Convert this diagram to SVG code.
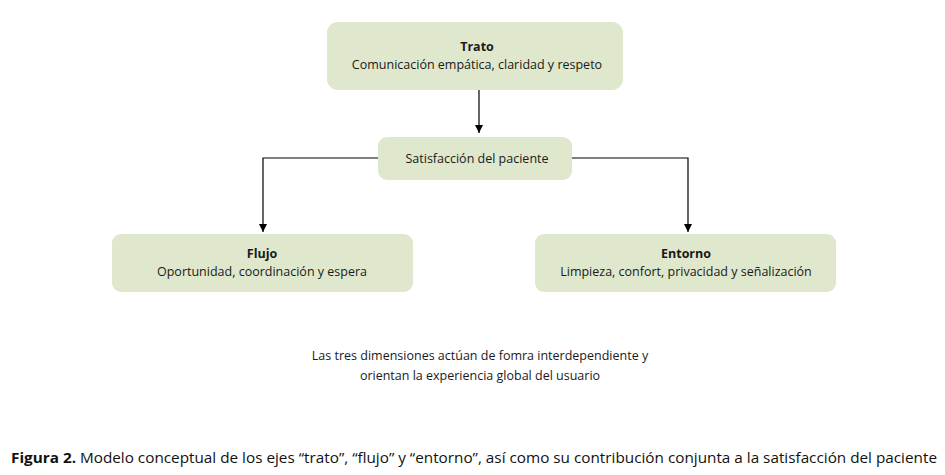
<svg xmlns="http://www.w3.org/2000/svg" width="945" height="475" viewBox="0 0 945 475">
<defs>
<style>
.box{fill:#dfe8cc;stroke:none}
.t{font-family:"Open Sans","Noto Sans",sans-serif;font-size:12.5px;fill:#1a1a1a;text-anchor:middle}
.b{font-weight:bold}
.ln{fill:none;stroke:#000;stroke-width:1.2}
.cap{font-family:"Open Sans","Noto Sans",sans-serif;font-size:15px;fill:#111}
</style>
<marker id="ah" viewBox="0 0 10 10" refX="10" refY="5" markerWidth="8" markerHeight="8" markerUnits="userSpaceOnUse" orient="auto">
<path d="M0,0 L10,5 L0,10 z" fill="#000"/>
</marker>
</defs>
<rect width="945" height="475" fill="#fff"/>
<g id="connectors">
<path class="ln" d="M479,90 V133" marker-end="url(#ah)"/>
<path class="ln" d="M378,158 H263 V232" marker-end="url(#ah)"/>
<path class="ln" d="M572,158 H688 V232" marker-end="url(#ah)"/>
</g>
<g id="trato">
<rect class="box" x="327" y="22" width="296" height="68" rx="11"/>
<text class="t b" x="477" y="51">Trato</text>
<text class="t" x="477" y="69">Comunicación empática, claridad y respeto</text>
</g>
<g id="satisfaccion">
<rect class="box" x="378" y="137" width="194" height="43" rx="9"/>
<text class="t" x="477" y="163">Satisfacción del paciente</text>
</g>
<g id="flujo">
<rect class="box" x="112" y="234" width="301" height="58" rx="9"/>
<text class="t b" x="262" y="258">Flujo</text>
<text class="t" x="262" y="276">Oportunidad, coordinación y espera</text>
</g>
<g id="entorno">
<rect class="box" x="535" y="234" width="301" height="58" rx="9"/>
<text class="t b" x="686" y="258">Entorno</text>
<text class="t" x="686" y="276">Limpieza, confort, privacidad y señalización</text>
</g>
<g id="nota">
<text class="t" x="480" y="360" font-size="12">Las tres dimensiones actúan de fomra interdependiente y</text>
<text class="t" x="480" y="380" font-size="12">orientan la experiencia global del usuario</text>
</g>
<text class="cap" x="11" y="463" textLength="926" lengthAdjust="spacingAndGlyphs"><tspan font-weight="bold">Figura 2.</tspan> Modelo conceptual de los ejes “trato”, “flujo” y “entorno”, así como su contribución conjunta a la satisfacción del paciente</text>
</svg>
